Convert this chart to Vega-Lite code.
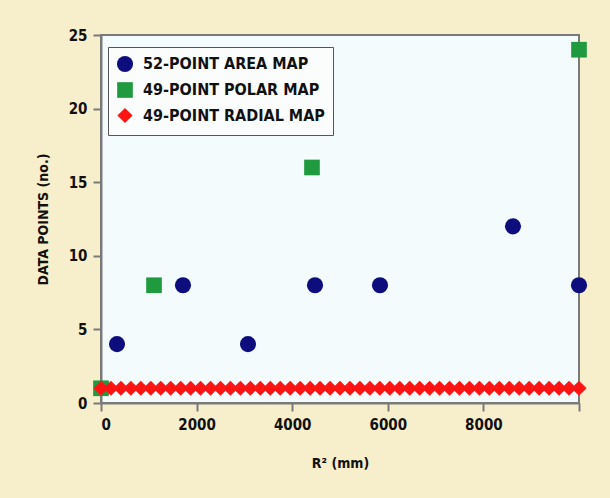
{
  "$schema": "https://vega.github.io/schema/vega-lite/v6.json",
  "autosize": "none",
  "width": 478,
  "height": 368,
  "padding": {"left": 101, "top": 35, "right": 31, "bottom": 95},
  "background": "#f7eecb",
  "config": {
    "font": "DejaVu Sans Condensed, DejaVu Sans, sans-serif",
    "view": {"fill": "#f4fbfd", "stroke": "#7a7a7a", "strokeWidth": 2},
    "axis": {
      "domainColor": "#7a7a7a", "domainWidth": 2, "tickColor": "#7a7a7a", "tickWidth": 2, "tickSize": 8,
      "grid": false, "labelFont": "DejaVu Sans Condensed, DejaVu Sans, sans-serif", "labelFontWeight": "bold", "labelFontSize": 15,
      "labelColor": "#111", "titleFont": "DejaVu Sans Condensed, DejaVu Sans, sans-serif", "titleFontWeight": "bold", "titleFontSize": 14, "titleColor": "#111"
    }
  },
  "data": {"values": [
    {"series": "52-POINT AREA MAP", "rsq": 335, "points": 4},
    {"series": "52-POINT AREA MAP", "rsq": 1715, "points": 8},
    {"series": "52-POINT AREA MAP", "rsq": 3075, "points": 4},
    {"series": "52-POINT AREA MAP", "rsq": 4477, "points": 8},
    {"series": "52-POINT AREA MAP", "rsq": 5837, "points": 8},
    {"series": "52-POINT AREA MAP", "rsq": 8619, "points": 12},
    {"series": "52-POINT AREA MAP", "rsq": 10000, "points": 8},
    {"series": "49-POINT POLAR MAP", "rsq": 0, "points": 1},
    {"series": "49-POINT POLAR MAP", "rsq": 1109, "points": 8},
    {"series": "49-POINT POLAR MAP", "rsq": 4414, "points": 16},
    {"series": "49-POINT POLAR MAP", "rsq": 10000, "points": 24},
    {"series": "49-POINT RADIAL MAP", "rsq": 0, "points": 1},
    {"series": "49-POINT RADIAL MAP", "rsq": 208, "points": 1},
    {"series": "49-POINT RADIAL MAP", "rsq": 417, "points": 1},
    {"series": "49-POINT RADIAL MAP", "rsq": 625, "points": 1},
    {"series": "49-POINT RADIAL MAP", "rsq": 833, "points": 1},
    {"series": "49-POINT RADIAL MAP", "rsq": 1042, "points": 1},
    {"series": "49-POINT RADIAL MAP", "rsq": 1250, "points": 1},
    {"series": "49-POINT RADIAL MAP", "rsq": 1458, "points": 1},
    {"series": "49-POINT RADIAL MAP", "rsq": 1667, "points": 1},
    {"series": "49-POINT RADIAL MAP", "rsq": 1875, "points": 1},
    {"series": "49-POINT RADIAL MAP", "rsq": 2083, "points": 1},
    {"series": "49-POINT RADIAL MAP", "rsq": 2292, "points": 1},
    {"series": "49-POINT RADIAL MAP", "rsq": 2500, "points": 1},
    {"series": "49-POINT RADIAL MAP", "rsq": 2708, "points": 1},
    {"series": "49-POINT RADIAL MAP", "rsq": 2917, "points": 1},
    {"series": "49-POINT RADIAL MAP", "rsq": 3125, "points": 1},
    {"series": "49-POINT RADIAL MAP", "rsq": 3333, "points": 1},
    {"series": "49-POINT RADIAL MAP", "rsq": 3542, "points": 1},
    {"series": "49-POINT RADIAL MAP", "rsq": 3750, "points": 1},
    {"series": "49-POINT RADIAL MAP", "rsq": 3958, "points": 1},
    {"series": "49-POINT RADIAL MAP", "rsq": 4167, "points": 1},
    {"series": "49-POINT RADIAL MAP", "rsq": 4375, "points": 1},
    {"series": "49-POINT RADIAL MAP", "rsq": 4583, "points": 1},
    {"series": "49-POINT RADIAL MAP", "rsq": 4792, "points": 1},
    {"series": "49-POINT RADIAL MAP", "rsq": 5000, "points": 1},
    {"series": "49-POINT RADIAL MAP", "rsq": 5208, "points": 1},
    {"series": "49-POINT RADIAL MAP", "rsq": 5417, "points": 1},
    {"series": "49-POINT RADIAL MAP", "rsq": 5625, "points": 1},
    {"series": "49-POINT RADIAL MAP", "rsq": 5833, "points": 1},
    {"series": "49-POINT RADIAL MAP", "rsq": 6042, "points": 1},
    {"series": "49-POINT RADIAL MAP", "rsq": 6250, "points": 1},
    {"series": "49-POINT RADIAL MAP", "rsq": 6458, "points": 1},
    {"series": "49-POINT RADIAL MAP", "rsq": 6667, "points": 1},
    {"series": "49-POINT RADIAL MAP", "rsq": 6875, "points": 1},
    {"series": "49-POINT RADIAL MAP", "rsq": 7083, "points": 1},
    {"series": "49-POINT RADIAL MAP", "rsq": 7292, "points": 1},
    {"series": "49-POINT RADIAL MAP", "rsq": 7500, "points": 1},
    {"series": "49-POINT RADIAL MAP", "rsq": 7708, "points": 1},
    {"series": "49-POINT RADIAL MAP", "rsq": 7917, "points": 1},
    {"series": "49-POINT RADIAL MAP", "rsq": 8125, "points": 1},
    {"series": "49-POINT RADIAL MAP", "rsq": 8333, "points": 1},
    {"series": "49-POINT RADIAL MAP", "rsq": 8542, "points": 1},
    {"series": "49-POINT RADIAL MAP", "rsq": 8750, "points": 1},
    {"series": "49-POINT RADIAL MAP", "rsq": 8958, "points": 1},
    {"series": "49-POINT RADIAL MAP", "rsq": 9167, "points": 1},
    {"series": "49-POINT RADIAL MAP", "rsq": 9375, "points": 1},
    {"series": "49-POINT RADIAL MAP", "rsq": 9583, "points": 1},
    {"series": "49-POINT RADIAL MAP", "rsq": 9792, "points": 1},
    {"series": "49-POINT RADIAL MAP", "rsq": 10000, "points": 1}
  ]},
  "mark": {"type": "point", "filled": true, "opacity": 1},
  "encoding": {
    "x": {
      "field": "rsq", "type": "quantitative",
      "scale": {"domain": [0, 10000], "nice": false, "zero": true},
      "axis": {"values": [0, 2000, 4000, 6000, 8000, 10000], "format": "d", "labelExpr": "datum.value == 10000 ? '' : datum.label", "labelPadding": 6, "title": "R² (mm)", "titlePadding": 24}
    },
    "y": {
      "field": "points", "type": "quantitative",
      "scale": {"domain": [0, 25], "nice": false},
      "axis": {"values": [0, 5, 10, 15, 20, 25], "labelPadding": 6, "title": "DATA POINTS (no.)", "titlePadding": 18}
    },
    "color": {
      "field": "series", "type": "nominal",
      "scale": {"domain": ["52-POINT AREA MAP", "49-POINT POLAR MAP", "49-POINT RADIAL MAP"], "range": ["#0d0d7d", "#1f9a3f", "#ff1414"]},
      "legend": {
        "title": null, "orient": "none", "legendX": 7, "legendY": 12,
        "fillColor": "#fbfdfd", "strokeColor": "#555555", "padding": 8,
        "labelFont": "DejaVu Sans Condensed, DejaVu Sans, sans-serif", "labelFontWeight": "bold", "labelFontSize": 16, "labelColor": "#111",
        "labelLimit": 400, "rowPadding": 3, "symbolOpacity": 1, "labelOffset": 9
      }
    },
    "shape": {
      "field": "series", "type": "nominal",
      "scale": {"domain": ["52-POINT AREA MAP", "49-POINT POLAR MAP", "49-POINT RADIAL MAP"], "range": ["circle", "square", "diamond"]}
    },
    "size": {
      "field": "series", "type": "nominal",
      "scale": {"domain": ["52-POINT AREA MAP", "49-POINT POLAR MAP", "49-POINT RADIAL MAP"], "range": [260, 230, 30]}
    }
  }
}
